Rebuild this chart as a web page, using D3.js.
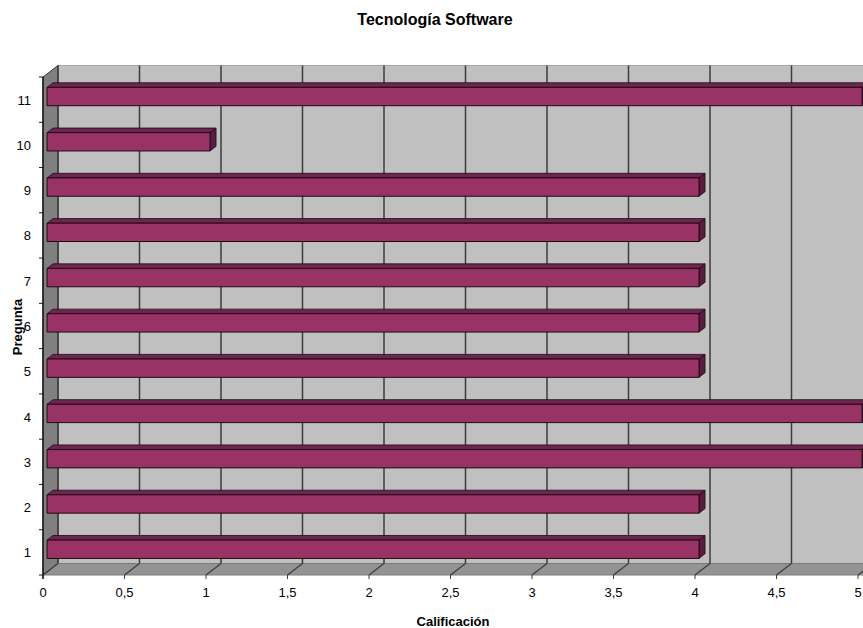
<!DOCTYPE html>
<html>
<head>
<meta charset="utf-8">
<script src="https://cdn.jsdelivr.net/npm/d3@7/dist/d3.min.js"></script>
<style>
  html, body { margin: 0; padding: 0; background: #ffffff; overflow: hidden; }
  svg { display: block; font-family: "Liberation Sans", Arial, sans-serif; }
</style>
</head>
<body>
<svg id="chart" width="863" height="628"></svg>
<script>
// Survey results: score per question
const categories = ["1", "2", "3", "4", "5", "6", "7", "8", "9", "10", "11"];
const scores = [4, 4, 5, 5, 4, 4, 4, 4, 4, 1, 5];
const xTicks = [0, 0.5, 1, 1.5, 2, 2.5, 3, 3.5, 4, 4.5, 5];
const chartTitle = "Tecnología Software";
const xTitle = "Calificación";
const yTitle = "Pregunta";

const svg = d3.select("#chart");

// Front plane scales
const x = d3.scaleLinear().domain([0, 5]).range([43, 858]);
const y = d3.scaleBand().domain(categories).range([575, 77]).padding(0);

// 3D depth offset (full depth of the plot box)
const DX = 15, DY = -11.5;
const xMax = x.range()[1] + 40; // walls continue past the window edge
const yTop = y.range()[1], yBot = y.range()[0];

const pt = (px, py, d) => [px + DX * d, py + DY * d];
const poly = pts => "M" + pts.map(p => p.join(",")).join("L") + "Z";

// Back wall
svg.append("path")
  .attr("d", poly([pt(x(0), yTop, 1), pt(xMax, yTop, 1), pt(xMax, yBot, 1), pt(x(0), yBot, 1)]))
  .attr("fill", "#c0c0c0")
  .attr("stroke", "#a8a8a8").attr("stroke-width", 1);

// Side wall
svg.append("path")
  .attr("d", poly([pt(x(0), yTop, 0), pt(x(0), yTop, 1), pt(x(0), yBot, 1), pt(x(0), yBot, 0)]))
  .attr("fill", "#808080")
  .attr("stroke", "#3a3a3a").attr("stroke-width", 1);

// Floor
svg.append("path")
  .attr("d", poly([pt(x(0), yBot, 0), pt(x(0), yBot, 1), pt(xMax, yBot, 1), pt(xMax, yBot, 0)]))
  .attr("fill", "#939393")
  .attr("stroke", "#7a7a7a").attr("stroke-width", 1);

// Vertical gridlines on the back wall and their traces across the floor
const grid = svg.append("g");
xTicks.forEach(t => {
  const [bx, by] = pt(x(t), yBot, 1);
  grid.append("line")
    .attr("x1", bx).attr("x2", bx).attr("y1", yTop + DY).attr("y2", by)
    .attr("stroke", "#3c3c3c").attr("stroke-width", 1.5);
  grid.append("line")
    .attr("x1", x(t)).attr("y1", yBot).attr("x2", bx).attr("y2", by)
    .attr("stroke", "#3c3c3c").attr("stroke-width", 1.2);
  grid.append("line")
    .attr("x1", x(t)).attr("y1", yBot).attr("x2", x(t)).attr("y2", yBot + 4)
    .attr("stroke", "#3c3c3c").attr("stroke-width", 1);
});

// Left axis line and category ticks
const axisG = svg.append("g");
axisG.append("line")
  .attr("x1", x(0)).attr("x2", x(0)).attr("y1", yTop).attr("y2", yBot + 4)
  .attr("stroke", "#1a1a1a").attr("stroke-width", 1.5);
const bounds = categories.map(c => y(c)).concat([yBot]);
bounds.forEach(b => {
  axisG.append("line")
    .attr("x1", x(0) - 4).attr("x2", x(0)).attr("y1", b).attr("y2", b)
    .attr("stroke", "#1a1a1a").attr("stroke-width", 1);
});

// 3D bars
const barFront = 0.27, barBack = 0.67;
const barH = y.bandwidth() * 0.405;
const bars = svg.append("g");
categories.slice().reverse().forEach(c => {
  const v = scores[categories.indexOf(c)];
  const cy = y(c) + y.bandwidth() / 2;
  const t = cy - barH / 2, b = cy + barH / 2;
  const x0 = x(0), x1 = x(v);
  // top face
  bars.append("path")
    .attr("d", poly([pt(x0, t, barFront), pt(x1, t, barFront), pt(x1, t, barBack), pt(x0, t, barBack)]))
    .attr("fill", "#6e2550").attr("stroke", "#1e0a14").attr("stroke-width", 0.8)
    .attr("stroke-linejoin", "round");
  // end face
  bars.append("path")
    .attr("d", poly([pt(x1, t, barFront), pt(x1, t, barBack), pt(x1, b, barBack), pt(x1, b, barFront)]))
    .attr("fill", "#5a1c3c").attr("stroke", "#1e0a14").attr("stroke-width", 0.8)
    .attr("stroke-linejoin", "round");
  // front face
  bars.append("path")
    .attr("d", poly([pt(x0, t, barFront), pt(x1, t, barFront), pt(x1, b, barFront), pt(x0, b, barFront)]))
    .attr("fill", "#993366").attr("stroke", "#1e0a14").attr("stroke-width", 1)
    .attr("stroke-linejoin", "round");
});

// Tick labels
const labels = svg.append("g").attr("font-size", 13).attr("fill", "#000");
xTicks.forEach(t => {
  labels.append("text")
    .attr("x", x(t)).attr("y", 597)
    .attr("text-anchor", "middle")
    .text(String(t).replace(".", ","));
});
categories.forEach(c => {
  labels.append("text")
    .attr("x", 31).attr("y", y(c) + y.bandwidth() / 2 + 5)
    .attr("text-anchor", "end")
    .text(c);
});

// Titles
svg.append("text")
  .attr("x", 435).attr("y", 25)
  .attr("text-anchor", "middle").attr("font-weight", "bold").attr("font-size", 16)
  .text(chartTitle);
svg.append("text")
  .attr("x", 453).attr("y", 626)
  .attr("text-anchor", "middle").attr("font-weight", "bold").attr("font-size", 13)
  .text(xTitle);
svg.append("text")
  .attr("transform", "translate(22,327) rotate(-90)")
  .attr("text-anchor", "middle").attr("font-weight", "bold").attr("font-size", 13)
  .text(yTitle);
</script>
</body>
</html>
